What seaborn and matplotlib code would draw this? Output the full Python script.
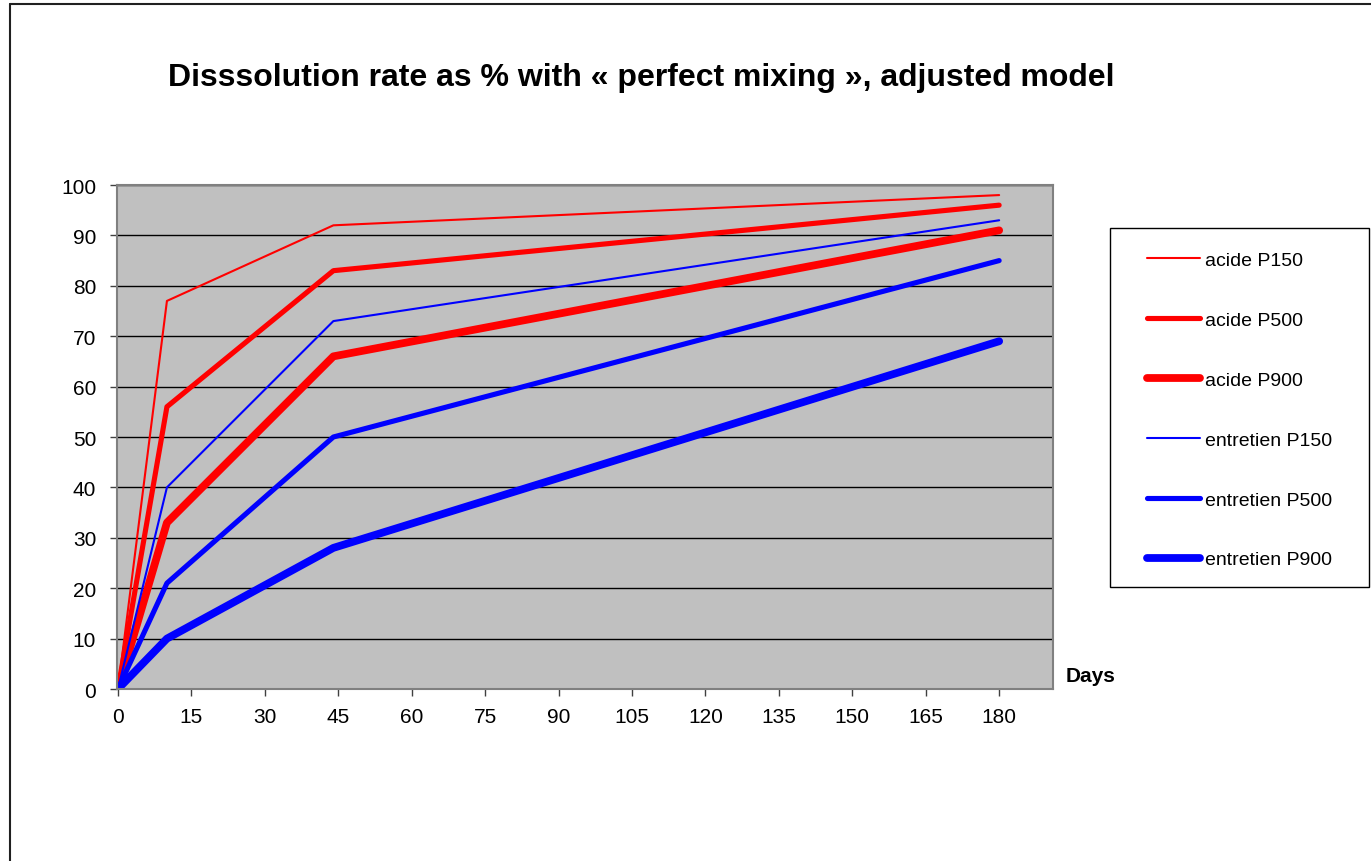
import pandas as pd
import matplotlib.pyplot as plt
import seaborn as sns
from matplotlib.lines import Line2D
from matplotlib.patches import Rectangle

sns.set_style("white")
plt.rcParams['font.family'] = ['Liberation Sans', 'DejaVu Sans']
plt.rcParams['text.color'] = 'black'

days = [0, 10, 44, 180]
acide_p150 = [0, 77, 92, 98]
acide_p500 = [0, 56, 83, 96]
acide_p900 = [0, 33, 66, 91]
entretien_p150 = [0, 40, 73, 93]
entretien_p500 = [0, 21, 50, 85]
entretien_p900 = [0, 10, 28, 69]

series = [
    ("acide P150", acide_p150, "#ff0000", 1.5),
    ("acide P500", acide_p500, "#ff0000", 3.7),
    ("acide P900", acide_p900, "#ff0000", 5.6),
    ("entretien P150", entretien_p150, "#0000ff", 1.5),
    ("entretien P500", entretien_p500, "#0000ff", 3.7),
    ("entretien P900", entretien_p900, "#0000ff", 5.6),
]

fig = plt.figure(figsize=(13.71, 8.62), dpi=100)
ax = fig.add_axes([117 / 1371, 1 - 690 / 862, 936 / 1371, 504 / 862])
ax.set_facecolor("#c0c0c0")

handles = []
for name, vals, col, lw in series:
    df = pd.DataFrame({"day": days, "rate": vals})
    sns.lineplot(data=df, x="day", y="rate", ax=ax, color=col, linewidth=lw,
                 solid_capstyle="round", solid_joinstyle="round")
    handles.append(Line2D([], [], color=col, linewidth=lw, solid_capstyle="round"))

ax.set_xlim(-0.2, 191)
ax.set_ylim(0, 100)
ax.set_xticks(range(0, 181, 15))
ax.set_yticks(range(0, 101, 10))
ax.set_xlabel("")
ax.set_ylabel("")
ax.yaxis.grid(True, color="black", linewidth=1)
ax.xaxis.grid(False)
ax.set_axisbelow(True)
for sp in ax.spines.values():
    sp.set_color("#808080")
    sp.set_linewidth(1.5)
ax.tick_params(axis="both", direction="out", length=5, width=1, color="#404040",
               labelsize=15, labelcolor="black", bottom=True, left=True)
ax.tick_params(axis="y", pad=10)
ax.tick_params(axis="x", pad=8)

fig.text(0.468, 0.909, "Disssolution rate as % with « perfect mixing », adjusted model",
         ha="center", va="center", fontsize=23, weight="bold")
fig.text(1066 / 1371, 1 - 677 / 862, "Days", ha="left", va="center", fontsize=15, weight="bold")

# legend box
fig.patches.append(Rectangle((1110 / 1371, 1 - 588 / 862), 259 / 1371, 359 / 862,
                             transform=fig.transFigure, facecolor="white",
                             edgecolor="black", linewidth=1))
fig.legend(handles, [s[0] for s in series], loc="center left",
           bbox_to_anchor=(1147 / 1371, 1 - 411 / 862), frameon=False,
           fontsize=14, handlelength=2.7, handletextpad=0.26, labelspacing=2.17,
           borderpad=0, borderaxespad=0)

# outer chart border
fig.add_artist(Line2D([10 / 1371, 1], [1 - 5 / 862, 1 - 5 / 862], transform=fig.transFigure,
                      color="#202020", linewidth=1.5))
fig.add_artist(Line2D([10 / 1371, 10 / 1371], [0, 1 - 5 / 862], transform=fig.transFigure,
                      color="#202020", linewidth=1.5))

fig.savefig("out.png", dpi=100)
